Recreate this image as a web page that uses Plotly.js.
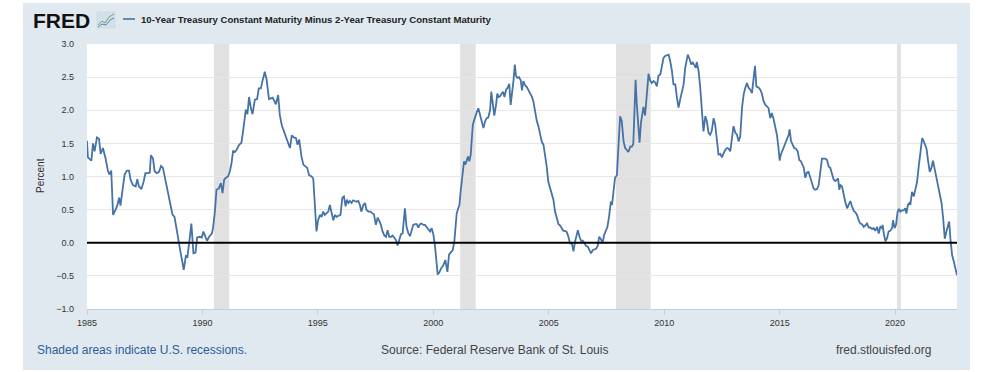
<!DOCTYPE html>
<html><head><meta charset="utf-8">
<script src="https://cdn.plot.ly/plotly-3.0.1.min.js"></script>
<style>
html,body{margin:0;padding:0;background:#ffffff;overflow:hidden;}
#bg{position:absolute;left:23px;top:3px;width:947px;height:367px;background:#e1e9f0;}
#chart{position:absolute;left:0;top:0;width:993px;height:372px;}
</style></head><body>
<div id="bg"></div><div id="chart"></div>
<script>
const dates = [
1985.00,1985.04,1985.19,1985.26,1985.33,1985.43,1985.52,1985.59,1985.69,1985.80,1985.91,1985.98,
1986.05,1986.13,1986.24,1986.31,1986.39,1986.45,1986.53,1986.63,1986.73,1986.82,1986.89,1986.99,
1987.11,1987.18,1987.25,1987.36,1987.46,1987.53,1987.64,1987.72,1987.77,1987.86,1987.93,
1988.03,1988.12,1988.21,1988.29,1988.38,1988.47,1988.54,1988.61,1988.70,1988.79,1988.87,1988.96,
1989.06,1989.13,1989.19,1989.28,1989.35,1989.44,1989.52,1989.61,1989.70,1989.77,1989.89,1989.97,
1990.04,1990.12,1990.20,1990.29,1990.41,1990.46,1990.54,1990.61,1990.71,1990.80,1990.87,1990.94,
1991.01,1991.11,1991.19,1991.26,1991.33,1991.40,1991.48,1991.59,1991.69,1991.76,1991.84,1991.88,1991.95,
1992.02,1992.10,1992.17,1992.27,1992.37,1992.44,1992.53,1992.60,1992.70,1992.78,1992.88,1992.96,
1993.04,1993.11,1993.18,1993.28,1993.35,1993.44,1993.53,1993.61,1993.70,1993.79,1993.87,1993.96,
1994.05,1994.12,1994.19,1994.29,1994.37,1994.44,1994.54,1994.62,1994.73,1994.80,1994.87,1994.94,
1995.01,1995.09,1995.16,1995.23,1995.30,1995.38,1995.45,1995.52,1995.59,1995.67,1995.74,1995.81,1995.91,1995.98,
1996.06,1996.13,1996.20,1996.26,1996.32,1996.39,1996.46,1996.53,1996.60,1996.68,1996.75,1996.82,1996.88,1996.97,
1997.04,1997.11,1997.20,1997.28,1997.37,1997.43,1997.51,1997.59,1997.66,1997.73,1997.80,1997.88,1997.95,
1998.02,1998.09,1998.17,1998.24,1998.31,1998.38,1998.45,1998.53,1998.60,1998.67,1998.77,1998.84,1998.92,1998.99,
1999.06,1999.13,1999.21,1999.28,1999.35,1999.42,1999.49,1999.57,1999.64,1999.71,1999.78,1999.86,1999.93,
2000.00,2000.07,2000.14,2000.19,2000.26,2000.33,2000.43,2000.52,2000.61,2000.68,2000.75,2000.84,2000.91,2000.97,
2001.01,2001.08,2001.13,2001.18,2001.26,2001.33,2001.39,2001.45,2001.50,2001.56,2001.62,2001.66,2001.71,2001.76,2001.82,2001.88,2001.95,
2002.02,2002.11,2002.17,2002.24,2002.31,2002.38,2002.46,2002.51,2002.57,2002.64,2002.72,2002.77,2002.83,2002.89,2002.96,
2003.02,2003.08,2003.15,2003.22,2003.29,2003.35,2003.41,2003.47,2003.53,2003.58,2003.64,2003.71,2003.79,2003.84,2003.90,2003.97,
2004.05,2004.12,2004.19,2004.26,2004.33,2004.41,2004.48,2004.55,2004.62,2004.70,2004.77,2004.84,2004.91,2004.98,
2005.06,2005.13,2005.20,2005.27,2005.35,2005.42,2005.49,2005.56,2005.63,2005.71,2005.78,2005.85,2005.92,
2006.00,2006.07,2006.14,2006.21,2006.26,2006.33,2006.40,2006.47,2006.55,2006.62,2006.69,2006.76,2006.83,2006.91,2006.98,
2007.05,2007.12,2007.18,2007.25,2007.33,2007.40,2007.47,2007.54,2007.61,2007.69,2007.74,2007.80,2007.87,2007.95,
2008.02,2008.09,2008.16,2008.24,2008.31,2008.38,2008.45,2008.53,2008.60,2008.66,2008.70,2008.76,2008.81,2008.89,2008.93,2008.99,
2009.04,2009.10,2009.17,2009.25,2009.32,2009.39,2009.46,2009.54,2009.61,2009.68,2009.75,2009.83,2009.90,2009.97,
2010.04,2010.11,2010.19,2010.26,2010.33,2010.40,2010.48,2010.55,2010.62,2010.69,2010.76,2010.84,2010.91,2010.98,
2011.02,2011.10,2011.17,2011.24,2011.30,2011.37,2011.41,2011.49,2011.56,2011.63,2011.70,2011.78,2011.85,2011.92,2011.99,
2012.06,2012.14,2012.21,2012.28,2012.35,2012.43,2012.50,2012.57,2012.64,2012.72,2012.79,2012.86,2012.93,
2013.00,2013.08,2013.15,2013.22,2013.29,2013.37,2013.44,2013.51,2013.58,2013.65,2013.73,2013.80,2013.87,2013.93,2013.99,
2014.09,2014.16,2014.23,2014.30,2014.38,2014.45,2014.52,2014.59,2014.66,2014.74,2014.81,2014.88,2014.95,
2015.00,2015.05,2015.13,2015.17,2015.24,2015.31,2015.39,2015.43,2015.49,2015.56,2015.63,2015.70,2015.78,2015.85,2015.92,2015.97,
2016.04,2016.11,2016.18,2016.25,2016.33,2016.40,2016.47,2016.54,2016.62,2016.69,2016.76,2016.83,2016.90,2016.98,
2017.05,2017.12,2017.19,2017.27,2017.34,2017.41,2017.48,2017.53,2017.58,2017.63,2017.70,2017.77,2017.84,2017.92,2017.99,
2018.06,2018.13,2018.21,2018.28,2018.35,2018.42,2018.49,2018.57,2018.64,2018.71,2018.78,2018.86,2018.93,
2019.00,2019.07,2019.14,2019.22,2019.29,2019.36,2019.43,2019.46,2019.51,2019.58,2019.65,2019.72,2019.79,2019.87,2019.91,2019.98,
2020.04,2020.11,2020.17,2020.23,2020.30,2020.37,2020.44,2020.49,2020.55,2020.62,2020.66,2020.73,2020.81,2020.88,2020.95,
2021.02,2021.10,2021.17,2021.24,2021.31,2021.36,2021.43,2021.50,2021.57,2021.64,2021.72,2021.79,2021.86,2021.93,
2022.01,2022.08,2022.15,2022.22,2022.29,2022.34,2022.40,2022.47,2022.54,2022.61,2022.68
];
const spread = [
1.54,1.29,1.24,1.50,1.38,1.59,1.57,1.34,1.43,1.28,1.08,1.03,
1.09,0.42,0.50,0.56,0.68,0.56,0.77,1.03,1.09,1.09,0.95,0.87,
0.85,0.96,0.85,0.81,0.93,1.05,1.05,1.06,1.32,1.27,1.08,
1.05,1.07,1.16,1.13,0.97,0.80,0.73,0.55,0.43,0.39,0.22,-0.01,
-0.16,-0.29,-0.41,-0.20,-0.21,0.04,0.29,-0.16,-0.15,0.08,0.09,0.08,
0.17,0.10,0.03,0.09,0.14,0.22,0.47,0.80,0.82,0.90,0.75,0.95,
0.98,1.00,1.08,1.20,1.39,1.37,1.40,1.48,1.51,1.68,1.91,2.01,1.94,
2.20,2.03,1.94,2.16,2.17,2.33,2.33,2.44,2.58,2.46,2.17,2.18,
2.19,2.14,2.09,2.23,1.93,1.77,1.68,1.58,1.51,1.43,1.62,1.59,
1.58,1.48,1.56,1.30,1.18,1.16,1.13,1.02,1.00,0.97,0.52,0.17,
0.34,0.42,0.39,0.47,0.42,0.44,0.47,0.57,0.47,0.34,0.42,0.39,0.41,0.42,
0.68,0.70,0.55,0.65,0.60,0.63,0.60,0.64,0.63,0.62,0.63,0.57,0.47,0.57,
0.60,0.49,0.47,0.47,0.44,0.43,0.27,0.38,0.33,0.27,0.17,0.11,0.09,
0.19,0.09,0.09,0.11,0.08,0.04,-0.04,0.06,0.13,0.14,0.52,0.24,0.14,0.10,
0.17,0.27,0.28,0.28,0.23,0.28,0.29,0.27,0.27,0.24,0.22,0.17,0.22,
0.13,-0.04,-0.29,-0.48,-0.45,-0.39,-0.34,-0.26,-0.44,-0.18,-0.15,-0.11,0.02,0.32,
0.44,0.52,0.57,0.77,1.05,1.23,1.18,1.27,1.30,1.23,1.33,1.54,1.78,1.84,1.92,1.97,2.03,
1.93,1.82,1.73,1.83,1.88,1.89,2.01,2.28,2.11,1.92,2.09,2.25,2.20,2.21,2.25,
2.28,2.20,2.31,2.34,2.40,2.08,2.24,2.44,2.69,2.52,2.49,2.50,2.45,2.30,2.44,2.38,
2.35,2.31,2.25,2.21,2.14,1.96,1.84,1.76,1.66,1.52,1.48,1.33,1.15,0.92,
0.82,0.75,0.65,0.47,0.37,0.28,0.26,0.22,0.18,0.18,0.16,0.09,-0.01,
-0.01,-0.13,0.02,0.14,0.19,0.09,0.03,0.03,-0.01,-0.05,-0.06,-0.10,-0.16,-0.11,-0.10,
-0.09,-0.05,0.09,0.06,-0.01,0.12,0.19,0.24,0.39,0.62,0.57,0.82,0.98,1.02,
1.48,1.91,1.84,1.53,1.43,1.39,1.37,1.45,1.45,1.49,1.88,2.46,2.09,1.63,1.51,1.81,
1.96,2.05,1.92,2.24,2.55,2.45,2.41,2.44,2.42,2.36,2.52,2.54,2.67,2.79,
2.82,2.83,2.84,2.74,2.60,2.39,2.39,2.19,2.04,2.16,2.29,2.39,2.64,2.82,
2.84,2.77,2.69,2.72,2.67,2.64,2.73,2.59,2.34,1.94,1.68,1.91,1.83,1.66,1.63,
1.69,1.88,1.78,1.53,1.33,1.34,1.29,1.35,1.40,1.43,1.42,1.38,1.58,
1.76,1.66,1.63,1.53,1.60,2.04,2.24,2.34,2.41,2.34,2.31,2.26,2.49,2.67,2.36,
2.34,2.31,2.25,2.14,2.08,2.06,2.03,1.88,1.96,1.86,1.76,1.63,1.43,
1.24,1.33,1.40,1.43,1.49,1.53,1.63,1.71,1.54,1.48,1.43,1.42,1.38,1.25,1.23,1.19,
1.14,0.98,1.06,1.07,0.98,0.92,0.82,0.80,0.81,0.87,1.13,1.27,1.27,1.27,
1.25,1.15,1.13,1.03,0.95,0.93,0.95,0.97,0.80,0.87,0.85,0.72,0.62,0.52,0.57,
0.63,0.55,0.48,0.46,0.42,0.34,0.29,0.28,0.24,0.26,0.29,0.23,0.23,
0.21,0.22,0.18,0.24,0.14,0.24,0.22,0.27,0.14,0.02,0.07,0.17,0.18,0.22,0.34,0.22,
0.27,0.47,0.51,0.47,0.49,0.49,0.52,0.44,0.57,0.60,0.57,0.77,0.70,0.80,0.92,
1.15,1.43,1.58,1.53,1.48,1.42,1.23,1.07,1.13,1.24,1.10,0.97,0.87,0.75,
0.60,0.37,0.06,0.17,0.24,0.32,0.04,-0.19,-0.28,-0.39,-0.49
];
const recessionStart = ['1990-07-01','2001-03-01','2007-12-01','2020-02-01'];
const recessionEnd   = ['1991-03-01','2001-11-01','2009-06-01','2020-04-01'];
const yTickVals = [-1.0,-0.5,0.0,0.5,1.0,1.5,2.0,2.5,3.0];
const seriesName = '10-Year Treasury Constant Maturity Minus 2-Year Treasury Constant Maturity';

function toDate(t){
  const y = Math.floor(t);
  const a = Date.UTC(y,0,1), b = Date.UTC(y+1,0,1);
  return new Date(a + (t - y) * (b - a)).toISOString().slice(0,19).replace('T',' ');
}
const xDates = dates.map(toDate);

// layout helpers: page pixel -> paper coordinate
const L = 87, R = 957, T = 44, B = 309;
const px = x => (x - L) / (R - L);
const py = y => (B - y) / (B - T);

const FONT = 'Liberation Sans, Arial, Helvetica, sans-serif';

const shapes = recessionStart.map((s,i) => ({
  type:'rect', xref:'x', yref:'paper', x0:s, x1:recessionEnd[i], y0:0, y1:1,
  fillcolor:'#e1e1e1', line:{width:0}, layer:'between'
}));
shapes.push({type:'line', xref:'paper', yref:'y', x0:0, x1:1, y0:0, y1:0,
  line:{color:'#000000', width:1.8}, layer:'above'});
// legend swatch
shapes.push({type:'line', xref:'paper', yref:'paper', x0:px(123), x1:px(135), y0:py(19), y1:py(19),
  line:{color:'#4572a7', width:1.6}});
// small logo icon
shapes.push({type:'rect', xref:'paper', yref:'paper', x0:px(97), x1:px(115), y0:py(28), y1:py(12),
  fillcolor:'#d3dfeb', line:{color:'#c3d1df', width:0.5}});
shapes.push({type:'path', xref:'paper', yref:'paper',
  path:`M ${px(98)} ${py(25)} L ${px(102)} ${py(21)} L ${px(105)} ${py(23)} L ${px(109)} ${py(17)} L ${px(114)} ${py(14)}`,
  line:{color:'#6fae5c', width:1}});
shapes.push({type:'path', xref:'paper', yref:'paper',
  path:`M ${px(98)} ${py(27)} L ${px(102)} ${py(24)} L ${px(106)} ${py(25)} L ${px(110)} ${py(20)} L ${px(114)} ${py(18)}`,
  line:{color:'#5b86b8', width:1}});

const annotations = [
  {text:'<b>FRED</b>', x:px(31), y:py(20), xref:'paper', yref:'paper', xanchor:'left', yanchor:'middle',
   showarrow:false, font:{family:FONT, size:21, color:'#111111'}},
  {text:'<b>'+seriesName+'</b>', x:px(139), y:py(19), xref:'paper', yref:'paper', xanchor:'left', yanchor:'middle',
   showarrow:false, font:{family:FONT, size:9.6, color:'#222222'}},
  {text:'Percent', x:px(40), y:py(176), xref:'paper', yref:'paper', xanchor:'center', yanchor:'middle',
   textangle:-90, showarrow:false, font:{family:FONT, size:10, color:'#333333'}},
  {text:'Shaded areas indicate U.S. recessions.', x:px(35), y:py(350), xref:'paper', yref:'paper',
   xanchor:'left', yanchor:'middle', showarrow:false, font:{family:FONT, size:12, color:'#2d5d99'}},
  {text:'Source: Federal Reserve Bank of St. Louis', x:px(494), y:py(350), xref:'paper', yref:'paper',
   xanchor:'center', yanchor:'middle', showarrow:false, font:{family:FONT, size:12, color:'#444444'}},
  {text:'fred.stlouisfed.org', x:px(933), y:py(350), xref:'paper', yref:'paper',
   xanchor:'right', yanchor:'middle', showarrow:false, font:{family:FONT, size:12, color:'#444444'}}
];

const trace = {
  type:'scatter', mode:'lines', x:xDates, y:spread, name:seriesName,
  line:{color:'#4572a7', width:1.8}, hoverinfo:'x+y'
};

const layout = {
  width:993, height:372,
  margin:{l:L, r:993-R, t:T, b:372-B, pad:0},
  paper_bgcolor:'rgba(0,0,0,0)', plot_bgcolor:'#ffffff',
  showlegend:false,
  font:{family:FONT, size:9, color:'#333333'},
  xaxis:{type:'date', range:[toDate(dates[0]), toDate(dates[dates.length-1])],
    tick0:'1985-01-01', dtick:'M60', tickformat:'%Y', showgrid:false, zeroline:false,
    ticks:'outside', ticklen:5, tickcolor:'#c0d0e0', showline:true, linecolor:'#c0d0e0', linewidth:1,
    tickfont:{family:FONT, size:9, color:'#333333'}, fixedrange:true},
  yaxis:{range:[-1,3], tickvals:yTickVals, tickformat:'.1f', showgrid:true, gridcolor:'#e6e6e6', gridwidth:1,
    zeroline:false, showline:false, ticks:'', ticklabelstandoff:12,
    tickfont:{family:FONT, size:9, color:'#333333'}, fixedrange:true},
  shapes:shapes, annotations:annotations
};

Plotly.newPlot('chart', [trace], layout, {displayModeBar:false, staticPlot:true});
</script>
</body></html>
